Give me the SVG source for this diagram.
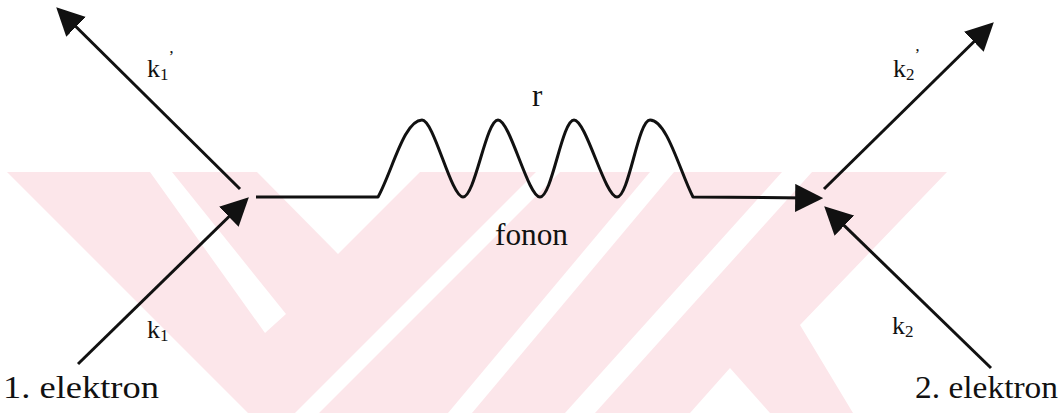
<svg xmlns="http://www.w3.org/2000/svg" width="1062" height="413" viewBox="0 0 1062 413">
  <style>
    .wm { fill: #fce6ea; }
    .cut { fill: #ffffff; }
    .ln { fill: none; stroke: #111; stroke-width: 3; stroke-linecap: butt; stroke-linejoin: round; }
    .arr { marker-end: url(#head); }
    text { font-family: 'Liberation Serif', 'Noto Serif', 'DejaVu Serif', serif; fill: #111; }
    .lab { font-size: 26px; }
    .sub { font-size: 17px; }
    .big { font-size: 31px; }
  </style>
  <defs>
    <marker id="head" markerUnits="userSpaceOnUse" markerWidth="28" markerHeight="28" viewBox="0 0 26 26" refX="11" refY="13" orient="auto">
      <path d="M0,0 L26,13 L0,26 Z" fill="#111"/>
    </marker>
  </defs>
  <rect width="1062" height="413" fill="#ffffff"/>
  <g id="watermark">
    <polygon class="wm" points="7,172 947,172 800,325 853,413 248,413"/>
    <polygon class="cut" points="150,172 172,172 286,314 265,333"/>
    <polygon class="cut" points="257,172 420,172 338,254"/>
    <polygon class="cut" points="295,413 319,413 560,172 536,172"/>
    <polygon class="cut" points="448,413 472,413 674,172 650,172"/>
    <polygon class="cut" points="565,413 595,413 812,172 782,172"/>
    <polygon class="cut" points="690,413 730,368 770,413"/>
  </g>
  <g id="connectors">
    <line id="k1p-arrow" class="ln arr" x1="240" y1="189" x2="67.7" y2="18.5"/>
    <line id="k1-arrow" class="ln arr" x1="78" y1="364" x2="237.3" y2="208.5"/>
    <path id="phonon" class="ln arr" d="M256,197 L378,197 C392,172 404,120 422,120 C434,120 451,197 463,197 C475,197 486,120 498,120 C510,120 528,197 540,197 C552,197 562,120 574,120 C586,120 605,197 617,197 C629,197 638,120 650,120 C667,120 680,172 693,197 L807,198"/>
    <line id="k2-arrow" class="ln arr" x1="991" y1="368" x2="835.8" y2="217.4"/>
    <line id="k2p-arrow" class="ln arr" x1="824" y1="189" x2="982.3" y2="33.5"/>
  </g>
  <g id="label-k1p"><text class="lab" x="147" y="77">k<tspan class="sub" dy="3">1</tspan><tspan class="sub" dy="-18">’</tspan></text></g>
  <g id="label-k1"><text class="lab" x="147" y="338">k<tspan class="sub" dy="3">1</tspan></text></g>
  <g id="label-r"><text class="big" x="532" y="106">r</text></g>
  <g id="label-fonon"><text class="big" x="495" y="245" textLength="73" lengthAdjust="spacingAndGlyphs">fonon</text></g>
  <g id="label-k2p"><text class="lab" x="893" y="77">k<tspan class="sub" dy="3">2</tspan><tspan class="sub" dy="-20">’</tspan></text></g>
  <g id="label-k2"><text class="lab" x="892" y="334">k<tspan class="sub" dy="3">2</tspan></text></g>
  <g id="node-e1"><text class="big" x="3" y="398" textLength="156" lengthAdjust="spacingAndGlyphs">1. elektron</text></g>
  <g id="node-e2"><text class="big" x="915" y="398" textLength="143" lengthAdjust="spacingAndGlyphs">2. elektron</text></g>
</svg>
